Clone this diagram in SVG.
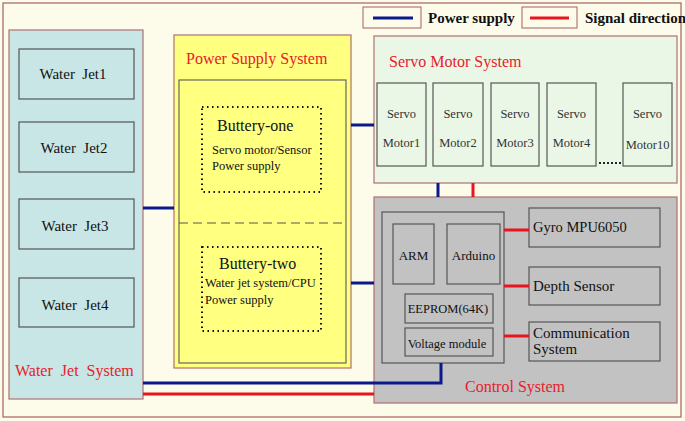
<svg xmlns="http://www.w3.org/2000/svg" width="685" height="421" viewBox="0 0 685 421">
<defs>
<style>
text{font-family:"Liberation Serif","Times New Roman",serif;fill:#111;white-space:pre}
.title{fill:#e8202a;font-size:16px}
.box{stroke:#555;stroke-width:1.2}
.pw{stroke:#0a1a8c;stroke-width:3;fill:none}
.sg{stroke:#e8141e;stroke-width:3;fill:none}
.panel{stroke:#b07070;stroke-width:1.2}
.dot{fill:none;stroke:#111;stroke-width:2;stroke-dasharray:1.5 3.5}
.n{font-size:13px}
.w{font-size:15px}
.m{font-size:12.5px;fill:#333}
</style>
</defs>
<rect x="0" y="0" width="685" height="421" fill="#fdfbea"/>
<rect x="3" y="3" width="678" height="414" fill="#fdfbea" stroke="#a86060" stroke-width="1.2"/>

<g id="legend">
<rect x="363" y="7" width="58" height="21" fill="#fdfbea" stroke="#a86060" stroke-width="1"/>
<line x1="373" y1="18" x2="413" y2="18" class="pw"/>
<text x="428" y="23" style="font-size:15px;font-weight:bold">Power supply</text>
<rect x="522" y="7" width="55" height="21" fill="#fdfbea" stroke="#a86060" stroke-width="1"/>
<line x1="530" y1="18" x2="569" y2="18" class="sg"/>
<text x="585" y="23" style="font-size:15px;font-weight:bold">Signal direction</text>
</g>

<g id="water-jet-system">
<rect x="9" y="30" width="134" height="369" fill="#c8e6e6" class="panel"/>
<text x="15" y="376" class="title" xml:space="preserve">Water  Jet  System</text>
</g>
<g id="water-jet1"><rect x="19" y="49" width="115" height="50" fill="#c8e6e6" class="box"/><text x="73" y="79" text-anchor="middle" class="w" xml:space="preserve">Water  Jet1</text></g>
<g id="water-jet2"><rect x="19" y="122" width="115" height="50" fill="#c8e6e6" class="box"/><text x="74" y="153" text-anchor="middle" class="w" xml:space="preserve">Water  Jet2</text></g>
<g id="water-jet3"><rect x="19" y="199" width="115" height="50" fill="#c8e6e6" class="box"/><text x="75" y="231" text-anchor="middle" class="w" xml:space="preserve">Water  Jet3</text></g>
<g id="water-jet4"><rect x="19" y="278" width="115" height="49" fill="#c8e6e6" class="box"/><text x="75" y="310" text-anchor="middle" class="w" xml:space="preserve">Water  Jet4</text></g>

<g id="power-supply-system">
<rect x="174" y="35" width="177" height="333" fill="#ffff80" class="panel"/>
<text x="186" y="64" class="title">Power Supply System</text>
<rect x="179" y="80" width="167" height="283" fill="#ffff80" stroke="#666" stroke-width="1.2"/>
<line x1="179" y1="223" x2="346" y2="223" stroke="#555" stroke-width="1" stroke-dasharray="9 5"/>
</g>
<g id="buttery-one">
<rect x="202" y="107" width="119" height="85" class="dot"/>
<text x="217" y="131" style="font-size:16px">Buttery-one</text>
<text x="212" y="154" style="font-size:12.5px">Servo motor/Sensor</text>
<text x="212" y="170" style="font-size:12.5px">Power supply</text>
</g>
<g id="buttery-two">
<rect x="202" y="247" width="119" height="84" class="dot"/>
<text x="219" y="269" style="font-size:16px">Buttery-two</text>
<text x="205" y="287" style="font-size:12.5px">Water jet system/CPU</text>
<text x="205" y="304" style="font-size:12.5px">Power supply</text>
</g>

<g id="servo-motor-system">
<rect x="374" y="36" width="303" height="147" fill="#eaf7e6" class="panel"/>
<text x="389" y="67" class="title">Servo Motor System</text>
<line x1="599" y1="163" x2="622" y2="163" stroke="#222" stroke-width="2" stroke-dasharray="2 2"/>
</g>
<g id="servo-motor1"><rect x="377" y="83" width="49" height="83" fill="#eaf7e6" class="box"/><text x="401.5" y="118" text-anchor="middle" class="m">Servo</text><text x="401.5" y="147" text-anchor="middle" class="m">Motor1</text></g>
<g id="servo-motor2"><rect x="433" y="83" width="50" height="83" fill="#eaf7e6" class="box"/><text x="458" y="118" text-anchor="middle" class="m">Servo</text><text x="458" y="147" text-anchor="middle" class="m">Motor2</text></g>
<g id="servo-motor3"><rect x="491" y="83" width="48" height="83" fill="#eaf7e6" class="box"/><text x="515" y="118" text-anchor="middle" class="m">Servo</text><text x="515" y="147" text-anchor="middle" class="m">Motor3</text></g>
<g id="servo-motor4"><rect x="547" y="83" width="49" height="83" fill="#eaf7e6" class="box"/><text x="571.5" y="118" text-anchor="middle" class="m">Servo</text><text x="571.5" y="147" text-anchor="middle" class="m">Motor4</text></g>
<g id="servo-motor10"><rect x="623" y="83" width="49" height="83" fill="#eaf7e6" class="box"/><text x="647.5" y="118" text-anchor="middle" class="m">Servo</text><text x="647.5" y="149" text-anchor="middle" class="m">Motor10</text></g>

<g id="control-system">
<rect x="374" y="197" width="303" height="206" fill="#c2c2c2" class="panel"/>
<text x="465" y="392" class="title">Control System</text>
<rect x="382" y="212" width="122" height="151" fill="#c2c2c2" stroke="#555" stroke-width="1.2"/>
</g>
<g id="arm"><rect x="393" y="224" width="41" height="60" fill="#c2c2c2" class="box"/><text x="413.5" y="260" text-anchor="middle" class="n">ARM</text></g>
<g id="arduino"><rect x="447" y="224" width="53" height="60" fill="#c2c2c2" class="box"/><text x="473.5" y="260" text-anchor="middle" class="n">Arduino</text></g>
<g id="eeprom"><rect x="405" y="294" width="88" height="29" fill="#c2c2c2" class="box"/><text x="448" y="313" text-anchor="middle" style="font-size:12.5px">EEPROM(64K)</text></g>
<g id="voltage-module"><rect x="405" y="328" width="88" height="28" fill="#c2c2c2" class="box"/><text x="447" y="348" text-anchor="middle" style="font-size:12.5px">Voltage module</text></g>
<g id="gyro"><rect x="529" y="208" width="131" height="39" fill="#c2c2c2" class="box"/><text x="533" y="232" style="font-size:14.5px">Gyro MPU6050</text></g>
<g id="depth-sensor"><rect x="529" y="267" width="131" height="38" fill="#c2c2c2" class="box"/><text x="533" y="291" style="font-size:15px">Depth Sensor</text></g>
<g id="communication-system"><rect x="529" y="322" width="131" height="39" fill="#c2c2c2" class="box"/><text x="533" y="338" style="font-size:15px">Communication</text><text x="533" y="354" style="font-size:15px">System</text></g>

<g id="connectors">
<line x1="143" y1="208" x2="174" y2="208" class="pw"/>
<line x1="351" y1="125" x2="374" y2="125" class="pw"/>
<line x1="351" y1="283" x2="374" y2="283" class="pw"/>
<line x1="438" y1="183" x2="438" y2="197" class="pw"/>
<line x1="473" y1="183" x2="473" y2="197" class="sg"/>
<polyline points="143,383 441,383 441,363" class="pw"/>
<line x1="143" y1="394" x2="374" y2="394" class="sg"/>
<line x1="504" y1="230" x2="529" y2="230" class="sg"/>
<line x1="504" y1="286" x2="529" y2="286" class="sg"/>
<line x1="504" y1="336" x2="529" y2="336" class="sg"/>
</g>
</svg>
